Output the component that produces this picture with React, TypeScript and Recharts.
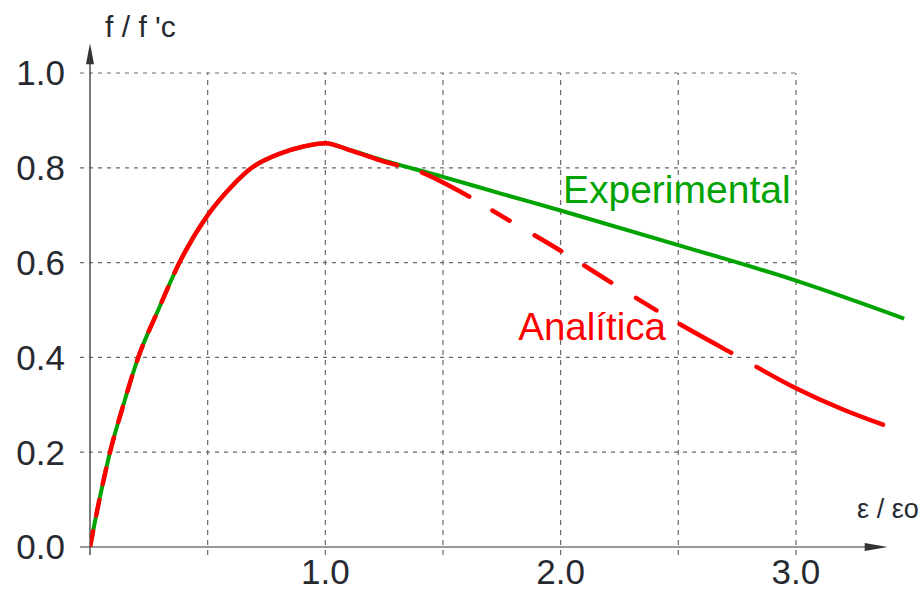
import React from "react";
import {
  LineChart,
  Line,
  XAxis,
  YAxis,
  ReferenceLine,
  ReferenceDot,
} from "recharts";

// strain ratio (e/eo) and stress ratio (f/f'c)
const expStrain = [0, 0.04, 0.085, 0.142, 0.205, 0.29, 0.38, 0.5, 0.595, 0.687, 0.807, 0.907, 1.0, 1.1, 1.25, 1.5, 1.75, 2.0, 2.5, 3.0, 3.46];
const expStress = [0, 0.1, 0.2, 0.3, 0.4, 0.5, 0.6, 0.7, 0.757, 0.8, 0.83, 0.845, 0.852, 0.838, 0.815, 0.781, 0.745, 0.71, 0.637, 0.562, 0.482];

const anaStrain = [0, 0.04, 0.085, 0.142, 0.205, 0.29, 0.38, 0.5, 0.595, 0.687, 0.807, 0.907, 1.0, 1.1, 1.25, 1.4, 1.58, 1.75, 2.0, 2.25, 2.5, 2.75, 3.0, 3.2, 3.37];
const anaStress = [0, 0.1, 0.2, 0.3, 0.4, 0.5, 0.6, 0.7, 0.757, 0.8, 0.83, 0.845, 0.852, 0.838, 0.813, 0.792, 0.748, 0.698, 0.625, 0.547, 0.472, 0.403, 0.335, 0.29, 0.258];

const xTicks = [1, 2, 3];
const yTicks = [0, 0.2, 0.4, 0.6, 0.8, 1.0];
const xGrid = [0.5, 1, 1.5, 2, 2.5, 3];
const yGrid = [0.2, 0.4, 0.6, 0.8, 1.0];

const expData = expStrain.map((e, i) => ({ e, f: expStress[i] }));
const anaData = anaStrain.map((e, i) => ({ e, f: anaStress[i] }));

const GREEN = "#00a300";
const RED = "#ff0000";
const GRID = "#6a6a6a";
const FONT = "'Liberation Sans', Arial, sans-serif";

// red curve: short dashes at the start, solid near the peak, long irregular dashes after
const redDash = (() => {
  const parts: number[] = [];
  for (let i = 0; i < 9; i++) parts.push(16, 16);
  parts.push(285, 26, 53, 27, 20, 29, 31, 27, 32, 29, 24, 27, 59, 29, 400);
  return parts.join(" ");
})();

const TextMark = (txt: string, size: number, color: string) => (p: any) => (
  <text x={p.cx} y={p.cy} fontSize={size} fill={color} fontFamily={FONT}>
    {txt}
  </text>
);

const ArrowUp = (p: any) => (
  <polygon points={`${p.cx},${p.cy} ${p.cx - 4},${p.cy + 21} ${p.cx + 4},${p.cy + 21}`} fill="#333" />
);
const ArrowRight = (p: any) => (
  <polygon points={`${p.cx},${p.cy} ${p.cx - 23},${p.cy - 4} ${p.cx - 23},${p.cy + 4}`} fill="#333" />
);

export default function App() {
  return (
    <div style={{ position: "absolute", left: 0, top: 0, background: "#fff" }}>
      <LineChart width={924} height={591} margin={{ top: 25.6, right: 10.4, left: 0, bottom: 0 }}>
        <XAxis
          dataKey="e"
          type="number"
          domain={[0, 3.5]}
          ticks={xTicks}
          tickFormatter={(v: number) => v.toFixed(1)}
          axisLine={false}
          tickLine={false}
          tickSize={0}
          tickMargin={12}
          height={44}
          tick={{ fill: "#262a30", fontSize: 35, fontFamily: FONT }}
          allowDataOverflow
        />
        <YAxis
          dataKey="f"
          type="number"
          domain={[0, 1.1]}
          ticks={yTicks}
          tickFormatter={(v: number) => v.toFixed(1)}
          axisLine={false}
          tickLine={false}
          tickSize={10}
          tickMargin={15}
          width={90}
          tick={{ fill: "#262a30", fontSize: 35, fontFamily: FONT }}
          allowDataOverflow
        />

        {yGrid.map((f) => (
          <ReferenceLine
            key={`h${f}`}
            segment={[{ x: -0.0425, y: f }, { x: 3, y: f }]}
            stroke={GRID}
            strokeWidth={1.2}
            strokeDasharray="4 5"
            ifOverflow="visible"
          />
        ))}
        {xGrid.map((e) => (
          <ReferenceLine
            key={`v${e}`}
            segment={[{ x: e, y: -0.017 }, { x: e, y: 1.0 }]}
            stroke={GRID}
            strokeWidth={1.2}
            strokeDasharray="5 5"
            ifOverflow="visible"
          />
        ))}

        {/* axes with arrow heads */}
        <ReferenceLine
          segment={[{ x: -0.0425, y: 0 }, { x: 3.3, y: 0 }]}
          stroke="#777"
          strokeWidth={1.6}
          ifOverflow="visible"
        />
        <ReferenceLine
          segment={[{ x: 0, y: -0.017 }, { x: 0, y: 1.03 }]}
          stroke="#444"
          strokeWidth={1.4}
          ifOverflow="visible"
        />
        <ReferenceDot x={3.39} y={0} ifOverflow="visible" shape={ArrowRight} />
        <ReferenceDot x={0} y={1.063} ifOverflow="visible" shape={ArrowUp} />

        <Line
          data={expData}
          dataKey="f"
          type="monotone"
          stroke={GREEN}
          strokeWidth={4}
          dot={false}
          isAnimationActive={false}
        />
        <Line
          data={anaData}
          dataKey="f"
          type="monotone"
          stroke={RED}
          strokeWidth={4.5}
          strokeDasharray={redDash}
          strokeLinecap="round"
          dot={false}
          isAnimationActive={false}
        />

        <ReferenceDot x={0.064} y={1.076} ifOverflow="visible" shape={TextMark("f / f 'c", 30, "#262a30")} />
        <ReferenceDot x={3.26} y={0.061} ifOverflow="visible" shape={TextMark("ε / εo", 27, "#262a30")} />
        <ReferenceDot x={2.01} y={0.726} ifOverflow="visible" shape={TextMark("Experimental", 39, GREEN)} />
        <ReferenceDot x={1.82} y={0.437} ifOverflow="visible" shape={TextMark("Analítica", 38.5, RED)} />
      </LineChart>
    </div>
  );
}
